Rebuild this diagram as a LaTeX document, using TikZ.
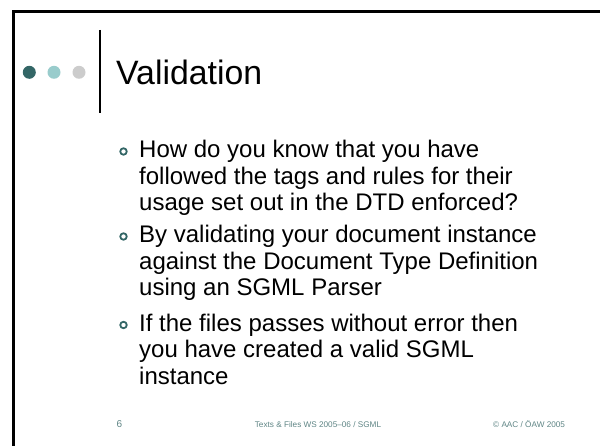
\documentclass[tikz,border=0pt]{standalone}
\usepackage{fontspec}
\setmainfont{Liberation Sans}

\definecolor{dotdark}{HTML}{336666}
\definecolor{dotlight}{HTML}{99CCCC}
\definecolor{dotgrey}{HTML}{CCCCCC}
\definecolor{footgrey}{HTML}{5F8585}

\tikzset{
	dot/.style={circle, fill=#1, minimum size=13pt, inner sep=0pt},
	ring/.style={circle, draw=dotdark, line width=1.8pt, minimum size=6.5pt, inner sep=0pt},
	item/.style={anchor=base west, align=left, inner sep=0pt, font=\fontsize{24}{26.5}\selectfont},
	foot/.style={inner sep=0pt, text=footgrey, font=\fontsize{8.2}{9}\selectfont}
}

\begin{document}
\begin{tikzpicture}[x=1pt, y=-1pt]
\useasboundingbox (0,0) rectangle (600,446);

% slide frame
\draw[line width=2.5pt] (13.3,446) -- (13.3,11.5) -- (600,11.5);

% title bar
\node[dot=dotdark] (dotA) at (29.3,72.3) {};
\node[dot=dotlight] (dotB) at (54,72.3) {};
\node[dot=dotgrey] (dotC) at (79,72.3) {};
\draw[line width=1.6pt] (100,30) -- (100,113);
\node[anchor=base west, inner sep=0pt, font=\fontsize{33.8}{38}\selectfont] (title) at (116,85) {Validation};

% bullets (node anchored at the baseline of its last line)
\node[ring] (bulA) at (123.5,151.5) {};
\node[item] (itemA) at (139,211) {How do you know that you have\\followed the tags and rules for their\\usage set out in the DTD enforced?};
\node[ring] (bulB) at (123.5,236.5) {};
\node[item] (itemB) at (139,296) {By validating your document instance\\against the Document Type Definition\\using an SGML Parser};
\node[ring] (bulC) at (123.5,325) {};
\node[item] (itemC) at (139,384.5) {If the files passes without error then\\you have created a valid SGML\\instance};

% footer
\node[foot, anchor=base west, font=\fontsize{10}{11}\selectfont] (pageno) at (116.5,427.5) {6};
\node[foot, anchor=base] (course) at (318,427.5) {Texts \& Files WS 2005--06 / SGML};
\node[foot, anchor=base west] (copy) at (493,427.5) {© AAC / ÖAW 2005};
\end{tikzpicture}
\end{document}
